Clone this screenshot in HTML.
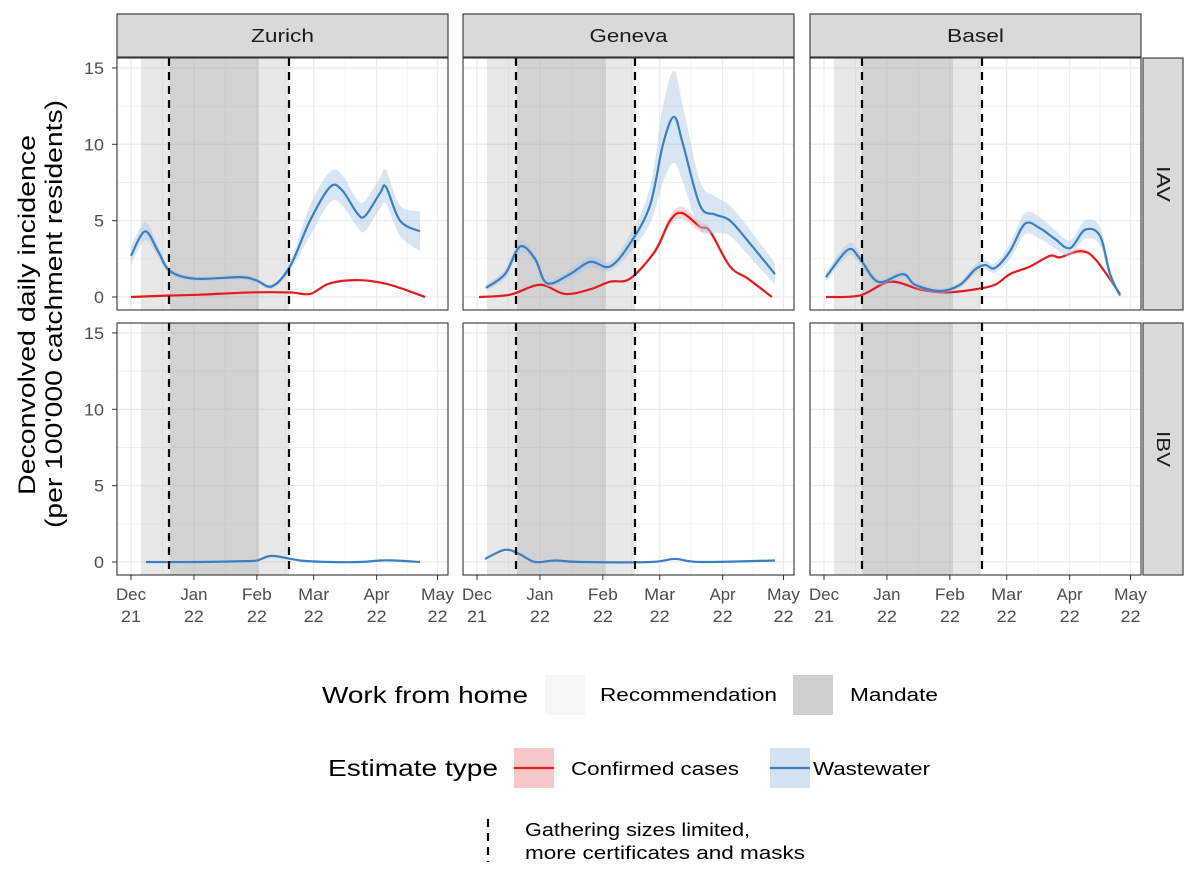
<!DOCTYPE html><html><head><meta charset="utf-8"><style>body{margin:0;background:#fff}svg text{font-family:"Liberation Sans",Arial,sans-serif}</style></head><body>
<svg id="s" width="1200" height="877" xmlns="http://www.w3.org/2000/svg"></svg>
<script>
const S=document.getElementById('s');let h='';
const panels=[117,463,810],rows=[58,323],PW=331,PH=252;
const sh=[[141,289,170,259,169,289],[487,635,517,606,516,635],[834,981,862,953,862,982]];
function T(x,y,sz,anc,len,str,fill,extra){return `<text x="${x}" y="${y}" font-size="${sz}" text-anchor="${anc}" fill="${fill||'#000'}" ${len?`textLength="${len}" lengthAdjust="spacingAndGlyphs"`:''} ${extra||''}>${str}</text>`;}
function seg(pts){let d='';for(let i=0;i<pts.length-1;i++){const p0=pts[i-1]||pts[i],p1=pts[i],p2=pts[i+1],p3=pts[i+2]||p2;d+=' C'+(p1[0]+(p2[0]-p0[0])/6)+','+(p1[1]+(p2[1]-p0[1])/6)+' '+(p2[0]-(p3[0]-p1[0])/6)+','+(p2[1]-(p3[1]-p1[1])/6)+' '+p2[0]+','+p2[1];}return d;}
function path(pts){return 'M'+pts[0][0]+','+pts[0][1]+seg(pts);}
function ser(pts,r,col,fill){const y0=r==0?297:562;const c=pts.map(p=>[p[0],y0-15.27*p[1]]);
 if(fill){const up=pts.map(p=>[p[0],y0-15.27*(p[1]+(p[2]||0))]);const lo=pts.map(p=>[p[0],y0-15.27*Math.max(0,p[1]-(p[2]||0))]).reverse();
 h+=`<path d="${path(up)} L${lo[0][0]},${lo[0][1]}${seg(lo)} Z" fill="${fill}" opacity="0.45"/>`;}
 h+=`<path d="${path(c)}" fill="none" stroke="${col}" stroke-width="2.2"/>`;}
rows.forEach((ry,ri)=>panels.forEach((px,pi)=>{
 h+=`<rect x="${px}" y="${ry}" width="${PW}" height="${PH}" fill="#fff"/>`;
 const y0=ry+239;
 for(let v=0;v<=17.5;v+=2.5){const y=y0-15.27*v;if(y<ry)break;h+=`<line x1="${px}" x2="${px+PW}" y1="${y}" y2="${y}" stroke="#ebebeb" stroke-width="${v%5?0.7:1.3}"/>`;}
 const mx=[0,31,62,90,121,151];mx.forEach((d,i)=>{const x=px+14+2.03*d;h+=`<line x1="${x}" x2="${x}" y1="${ry}" y2="${ry+PH}" stroke="#ebebeb" stroke-width="1.3"/>`;
  if(i<5){const xm=px+14+2.03*(d+(mx[i+1]-d)/2);h+=`<line x1="${xm}" x2="${xm}" y1="${ry}" y2="${ry+PH}" stroke="#ebebeb" stroke-width="0.7"/>`;}});
 const s=sh[pi];h+=`<rect x="${s[0]}" y="${ry}" width="${s[1]-s[0]}" height="${PH}" fill="#bdbdbd" opacity="0.35"/><rect x="${s[2]}" y="${ry}" width="${s[3]-s[2]}" height="${PH}" fill="#a8a8a8" opacity="0.35"/>`;
}));
ser([[131,0],[170,0.1],[200,0.15],[250,0.3],[290,0.3],[310,0.2],[330,0.9],[360,1.1],[390,0.8],[425,0]],0,'#e41a1c');
ser([[131,2.7,0.6],[145,4.3,0.6],[158,3,0.4],[170,1.7,0.2],[195,1.2,0.15],[240,1.3,0.15],[256,1.1,0.15],[272,0.7,0.15],[290,2,0.3],[310,5,1],[330,7.2,1],[342,7,1],[357,5.5,0.9],[365,5.3,1],[380,6.8,1],[386,7.2,1.1],[400,5,1],[420,4.3,1.3]],0,'#3a7fc1','#a9c8e6');
ser([[479,0],[510,0.15],[540,0.8],[565,0.2],[590,0.5],[610,1],[630,1.2],[655,3,0.2],[670,5,0.3],[682,5.5,0.4],[700,4.6,0.3],[710,4.3,0.2],[730,2],[748,1.2],[772,0]],0,'#e41a1c','#f4a9a9');
ser([[486,0.6,0.2],[505,1.5,0.3],[520,3.3,0.4],[535,2.5,0.3],[547,0.9,0.2],[570,1.5,0.3],[590,2.3,0.4],[610,2,0.3],[630,3.5,0.6],[650,6,1.2],[663,10,2.5],[674,11.8,3],[683,10,2.5],[700,6,1.6],[715,5.4,1.2],[730,5,1],[750,3.5,0.9],[775,1.5,0.7]],0,'#3a7fc1','#a9c8e6');
ser([[826,0],[860,0.1],[890,1],[920,0.5],[945,0.3],[975,0.5],[995,0.8],[1010,1.5],[1030,2],[1050,2.7],[1060,2.6],[1080,3,0.2],[1095,2.5],[1120,0.2]],0,'#e41a1c','#f4a9a9');
ser([[826,1.3,0.3],[848,3.1,0.4],[860,2.5,0.4],[878,1,0.2],[903,1.5,0.2],[915,0.8,0.2],[940,0.4,0.15],[960,0.8,0.2],[975,1.8,0.3],[985,2.1,0.3],[995,1.9,0.3],[1010,3,0.5],[1025,4.8,0.7],[1040,4.5,0.7],[1055,3.8,0.6],[1070,3.2,0.5],[1085,4.4,0.6],[1100,4,0.6],[1110,1.5,0.4],[1120,0.1,0.1]],0,'#3a7fc1','#a9c8e6');
ser([[146,0],[200,0],[240,0.05],[257,0.1],[272,0.4],[300,0.1],[330,0],[360,0],[380,0.1],[395,0.1],[420,0]],1,'#3a7fc1');
ser([[485,0.2],[505,0.8],[520,0.5],[535,0],[555,0.1],[580,0],[650,0],[675,0.2],[700,0],[775,0.1]],1,'#3a7fc1');
rows.forEach(ry=>panels.forEach((px,pi)=>{const s=sh[pi];[s[4],s[5]].forEach(x=>h+=`<line x1="${x}" x2="${x}" y1="${ry}" y2="${ry+PH}" stroke="#000" stroke-width="2.2" stroke-dasharray="8,6"/>`);
 h+=`<rect x="${px}" y="${ry}" width="${PW}" height="${PH}" fill="none" stroke="#333" stroke-width="1.1"/>`;}));
[['Zurich',63],['Geneva',78],['Basel',57]].forEach((t,i)=>{const px=panels[i];h+=`<rect x="${px}" y="14" width="${PW}" height="43" fill="#d9d9d9" stroke="#333" stroke-width="1.1"/>`+T(px+PW/2,42,18,'middle',t[1],t[0],'#1a1a1a');});
[['IAV',36],['IBV',36]].forEach((t,i)=>{const ry=rows[i];h+=`<rect x="1143" y="${ry}" width="40" height="${PH}" fill="#d9d9d9" stroke="#333" stroke-width="1.1"/>`+T(0,0,18,'middle',t[1],t[0],'#1a1a1a',`transform="translate(1157,${ry+PH/2}) rotate(90)"`);});
rows.forEach(ry=>{[0,5,10,15].forEach(v=>{const y=ry+239-15.27*v;h+=`<line x1="112" x2="117" y1="${y}" y2="${y}" stroke="#333"/>`+T(104,y+6,17,'end',v<10?10:20,v,'#4d4d4d');});});
const ml=[['Dec','21',30],['Jan','22',27],['Feb','22',30],['Mar','22',31],['Apr','22',26],['May','22',33]],md=[0,31,62,90,121,151];
panels.forEach(px=>md.forEach((d,i)=>{const x=px+14+2.03*d;h+=`<line x1="${x}" x2="${x}" y1="575" y2="580" stroke="#333"/>`+T(x,600,17,'middle',ml[i][2],ml[i][0],'#4d4d4d')+T(x,622,17,'middle',20,ml[i][1],'#4d4d4d');}));
h+=T(0,0,24,'middle',360,'Deconvolved daily incidence','#000','transform="translate(35,315) rotate(-90)"')+T(0,0,24,'middle',428,"(per 100'000 catchment residents)",'#000','transform="translate(62,314) rotate(-90)"');
h+=T(322,703,23,'start',206,'Work from home')+`<rect x="545" y="675" width="40" height="40" fill="#f6f6f6"/>`+T(600,701,18,'start',177,'Recommendation')+`<rect x="793" y="675" width="40" height="40" fill="#d0d0d0"/>`+T(850,701,18,'start',88,'Mandate');
h+=T(328,776,23,'start',170,'Estimate type')+`<rect x="514" y="748" width="40" height="40" fill="#f7c6c6"/><line x1="514" x2="554" y1="768" y2="768" stroke="#e41a1c" stroke-width="2.2"/>`+T(571,775,18,'start',168,'Confirmed cases')+`<rect x="770" y="748" width="40" height="40" fill="#d2e2f1"/><line x1="770" x2="810" y1="768" y2="768" stroke="#3a7fc1" stroke-width="2.2"/>`+T(813,775,18,'start',117,'Wastewater');
h+=`<line x1="488" x2="488" y1="815" y2="862" stroke="#000" stroke-width="2.2" stroke-dasharray="8,6" stroke-dashoffset="-4"/>`+T(525,836,18,'start',225,'Gathering sizes limited,')+T(525,859,18,'start',280,'more certificates and masks');
S.innerHTML=h;
</script></body></html>
